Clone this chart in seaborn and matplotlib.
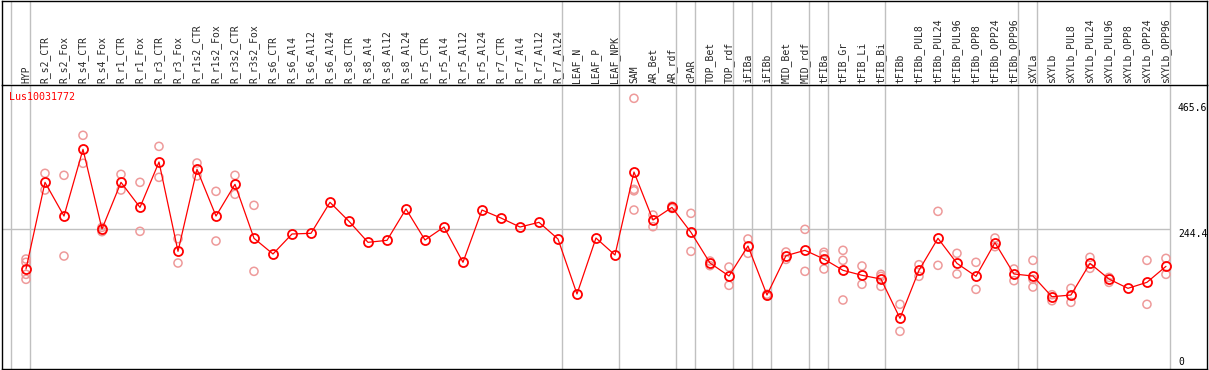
import numpy as np
import pandas as pd
import seaborn as sns
import matplotlib.pyplot as plt

# sample names, in plotting order
categories = ['HYP', 'R_s2_CTR', 'R_s2_Fox', 'R_s4_CTR', 'R_s4_Fox', 'R_r1_CTR', 'R_r1_Fox',
              'R_r3_CTR', 'R_r3_Fox', 'R_r1s2_CTR', 'R_r1s2_Fox', 'R_r3s2_CTR', 'R_r3s2_Fox',
              'R_s6_CTR', 'R_s6_Al4', 'R_s6_Al12', 'R_s6_Al24', 'R_s8_CTR', 'R_s8_Al4',
              'R_s8_Al12', 'R_s8_Al24', 'R_r5_CTR', 'R_r5_Al4', 'R_r5_Al12', 'R_r5_Al24',
              'R_r7_CTR', 'R_r7_Al4', 'R_r7_Al12', 'R_r7_Al24', 'LEAF_N', 'LEAF_P', 'LEAF_NPK',
              'SAM', 'AR_Bet', 'AR_rdf', 'cPAR', 'TOP_Bet', 'TOP_rdf', 'iFIBa', 'iFIBb',
              'MID_Bet', 'MID_rdf', 'tFIBa', 'tFIB_Gr', 'tFIB_Li', 'tFIB_Bi', 'tFIBb',
              'tFIBb_PUL8', 'tFIBb_PUL24', 'tFIBb_PUL96', 'tFIBb_OPP8', 'tFIBb_OPP24',
              'tFIBb_OPP96', 'sXYLa', 'sXYLb', 'sXYLb_PUL8', 'sXYLb_PUL24', 'sXYLb_PUL96',
              'sXYLb_OPP8', 'sXYLb_OPP24', 'sXYLb_OPP96']

# mean expression per sample
means = [173, 326, 266.5, 384.3, 243.6, 326, 281.8, 361.9, 204.2, 349, 266.5, 322.5, 227.2,
         199.5, 234.8, 236, 290.7, 257.2, 220.1, 223.6, 278.9, 224.2, 247.1, 184.8, 277.1,
         263, 247.1, 255.4, 226, 128.9, 227.7, 197.7, 344.2, 259.5, 281.8, 237.7, 183.6,
         160.6, 213.6, 127.1, 196.5, 206, 190.6, 170.7, 161.9, 155.3, 86, 170.7, 227.2,
         183, 160.1, 219.5, 164.2, 160.6, 124.1, 127.1, 183, 155.3, 138.9, 149.5, 177.7]

# individual replicates
rep_cat = (['HYP'] * 4 + ['R_s2_CTR'] * 2 + ['R_s2_Fox'] * 2 + ['R_s4_CTR'] * 2 + ['R_s4_Fox'] * 2
           + ['R_r1_CTR'] * 2 + ['R_r1_Fox'] * 2 + ['R_r3_CTR'] * 2 + ['R_r3_Fox'] * 2
           + ['R_r1s2_CTR'] * 2 + ['R_r1s2_Fox'] * 2 + ['R_r3s2_CTR'] * 2 + ['R_r3s2_Fox'] * 2
           + ['SAM'] * 4 + ['AR_Bet'] * 2 + ['AR_rdf'] * 2 + ['cPAR'] * 2 + ['TOP_Bet'] * 2
           + ['TOP_rdf'] * 2 + ['iFIBa'] * 2 + ['iFIBb'] * 2 + ['MID_Bet'] * 2 + ['MID_rdf'] * 2
           + ['tFIBa'] * 3 + ['tFIB_Gr'] * 3 + ['tFIB_Li'] * 2 + ['tFIB_Bi'] * 3 + ['tFIBb'] * 2
           + ['tFIBb_PUL8'] * 2 + ['tFIBb_PUL24'] * 2 + ['tFIBb_PUL96'] * 2 + ['tFIBb_OPP8'] * 2
           + ['tFIBb_OPP24'] * 2 + ['tFIBb_OPP96'] * 2 + ['sXYLa'] * 3 + ['sXYLb'] * 2
           + ['sXYLb_PUL8'] * 2 + ['sXYLb_PUL24'] * 2 + ['sXYLb_PUL96'] * 2
           + ['sXYLb_OPP24'] * 2 + ['sXYLb_OPP96'] * 2)
rep_val = [190.6, 184.8, 163.6, 154.8, 341.9, 312.4, 338.4, 195.9, 409, 359.6, 246.6, 238.9,
           340.1, 312.4, 326, 239.5, 389.5, 334.8, 226.5, 183.6, 360.1, 337.2, 310.1, 222.4,
           338.4, 304.9, 285.4, 168.9,
           474.3, 313.6, 311, 277.1, 268.3, 247.7, 284, 280, 271.3, 204.2, 187.1, 178.9,
           176.5, 144.2, 226, 200.7, 128.5, 125.5, 203, 190, 243, 168.9,
           202.5, 198.3, 173, 206, 188.3, 118.3, 178.3, 146, 163.6, 160, 142.4, 110.7, 63,
           180.6, 160.1, 274.8, 179.5, 200.7, 164.2, 184.8, 137.1, 227.7, 212.4, 173, 152.4,
           188.3, 154.8, 141.2, 127.6, 117, 138.9, 114.2, 193.6, 174.2, 158.2, 149.4,
           188.3, 110.7, 191.8, 163.6]

# group separators (after these samples)
group_ends = ['HYP', 'R_r7_Al24', 'LEAF_NPK', 'AR_rdf', 'cPAR', 'TOP_rdf', 'iFIBa', 'iFIBb',
              'MID_rdf', 'tFIBa', 'tFIB_Bi', 'tFIBb_OPP96', 'sXYLa', 'sXYLb_OPP96']

gene = 'Lus10031772'
y_ticks = [0, 244.4, 465.6]

df_mean = pd.DataFrame({'sample': categories, 'value': means})
df_mean['pos'] = np.arange(len(categories))
df_rep = pd.DataFrame({'sample': rep_cat, 'value': rep_val})
df_rep['pos'] = [categories.index(c) for c in rep_cat]

sns.set_style('white')
plt.rcParams['font.family'] = ['DejaVu Sans Mono']

W, H = 1209, 370
fig = plt.figure(figsize=(W / 100, H / 100), dpi=100)
ax = fig.add_axes([2 / W, 1 / H, 1205 / W, 284 / H])
hx = fig.add_axes([2 / W, 285 / H, 1205 / W, 84.5 / H], facecolor='none')

xlim = (-1.263, 62.16)
ax.set_xlim(xlim)
ax.set_ylim(-3.5, 497.8)
hx.set_xlim(xlim)
hx.set_ylim(0, 1)

sep = [-0.79] + [categories.index(c) + 0.21 for c in group_ends]
for s in sep:
    ax.axvline(s, color='#c0c0c0', lw=1, zorder=0)
    hx.axvline(s, color='#c0c0c0', lw=1, zorder=0)
ax.hlines(y_ticks[1], xlim[0], len(categories) - 1 + 0.21, color='#c0c0c0', lw=1, zorder=0)

sns.scatterplot(data=df_rep, x='pos', y='value', ax=ax, marker='o', s=34,
                facecolor='none', edgecolor='#ee9a9a', linewidth=1.1, zorder=2, legend=False)
sns.lineplot(data=df_mean, x='pos', y='value', ax=ax, sort=False, color='red', lw=0.9,
             marker='o', markersize=6.5, markerfacecolor='none', markeredgecolor='red',
             markeredgewidth=1.3, zorder=3)

ax.xaxis.tick_top()
ax.set_xticks(df_mean['pos'])
ax.set_xticklabels(categories)
ax.tick_params(axis='x', length=0, pad=1.5, labelsize=7, rotation=90)
ax.set_yticks([])
ax.set(xlabel='', ylabel='')
hx.set_xticks([])
hx.set_yticks([])

for sp in list(ax.spines.values()) + list(hx.spines.values()):
    sp.set_color('black')
    sp.set_linewidth(1)
hx.spines['bottom'].set_visible(False)

tx = (1178 - 2) / 1205
for v in y_ticks[1:]:
    ax.text(tx, v, f'{v}', transform=ax.get_yaxis_transform(), fontsize=7,
            ha='left', va='top', color='black')
ax.text(tx, 0, '0', transform=ax.get_yaxis_transform(), fontsize=7,
        ha='left', va='bottom', color='black')

ax.text(7.3 / 1205, 0.956, gene, transform=ax.transAxes, fontsize=7.2,
        color='red', ha='left', va='center')

fig.savefig('out.png', dpi=100)
